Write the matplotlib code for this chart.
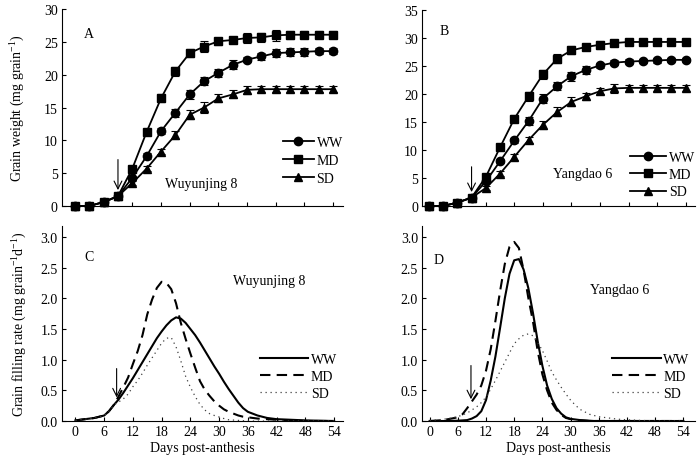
import matplotlib
matplotlib.use('Agg')
import matplotlib.pyplot as plt

plt.rcParams['font.family'] = 'Liberation Serif'
plt.rcParams['mathtext.fontset'] = 'custom'
plt.rcParams['mathtext.rm'] = 'Liberation Serif'
plt.rcParams['font.size'] = 10

# grain weight, sampled every 3 days after anthesis
days = [0, 3, 6, 9, 12, 15, 18, 21, 24, 27, 30, 33, 36, 39, 42, 45, 48, 51, 54]

wuy_ww = [0, 0, 0.6, 1.5, 4.3, 7.6, 11.4, 14.2, 17.0, 19.0, 20.3, 21.5, 22.3, 22.8, 23.3, 23.4, 23.5, 23.6, 23.6]
wuy_md = [0, 0, 0.6, 1.5, 5.7, 11.3, 16.4, 20.5, 23.3, 24.3, 25.1, 25.3, 25.6, 25.7, 26.0, 26.1, 26.1, 26.1, 26.1]
wuy_sd = [0, 0, 0.6, 1.5, 3.5, 5.7, 8.3, 10.8, 13.9, 15.0, 16.4, 17.0, 17.7, 17.8, 17.8, 17.8, 17.8, 17.8, 17.8]
wuy_ww_err = [0, 0, 0.1, 0.2, 0.3, 0.4, 0.5, 0.6, 0.7, 0.6, 0.6, 0.7, 0.4, 0.5, 0.6, 0.6, 0.6, 0.5, 0.5]
wuy_md_err = [0, 0, 0.1, 0.2, 0.3, 0.4, 0.6, 0.7, 0.6, 0.8, 0.5, 0.5, 0.8, 0.7, 0.8, 0.6, 0.5, 0.5, 0.5]
wuy_sd_err = [0, 0, 0.1, 0.2, 0.3, 0.4, 0.4, 0.6, 0.7, 0.8, 0.6, 0.6, 0.6, 0.5, 0.5, 0.5, 0.5, 0.5, 0.5]

yd_ww = [0, 0, 0.6, 1.5, 4.4, 8.0, 11.7, 15.2, 19.2, 21.4, 23.2, 24.3, 25.1, 25.6, 25.8, 25.9, 26.0, 26.1, 26.1]
yd_md = [0, 0, 0.6, 1.5, 5.2, 10.5, 15.6, 19.6, 23.5, 26.3, 27.8, 28.4, 28.8, 29.1, 29.3, 29.3, 29.3, 29.3, 29.3]
yd_sd = [0, 0, 0.6, 1.5, 3.2, 5.8, 8.8, 11.8, 14.5, 16.8, 18.6, 19.6, 20.5, 21.0, 21.1, 21.1, 21.1, 21.1, 21.1]
yd_ww_err = [0, 0, 0.1, 0.2, 0.3, 0.4, 0.5, 0.7, 0.8, 0.7, 0.8, 0.7, 0.5, 0.4, 0.4, 0.4, 0.4, 0.4, 0.4]
yd_md_err = [0, 0, 0.1, 0.2, 0.3, 0.5, 0.6, 0.8, 0.8, 0.8, 0.7, 0.6, 0.7, 0.6, 0.6, 0.5, 0.5, 0.5, 0.5]
yd_sd_err = [0, 0, 0.1, 0.2, 0.3, 0.4, 0.5, 0.6, 0.7, 0.8, 0.8, 0.6, 0.5, 0.8, 0.6, 0.6, 0.6, 0.6, 0.6]

# grain filling rate curves
rate_days = [0, 2, 4, 6, 7, 8, 9, 10, 11, 12, 13, 14, 15, 16, 17, 18, 19, 20, 21, 22, 23, 24,
             25, 26, 27, 28, 29, 30, 31, 32, 33, 34, 35, 36, 38, 40, 42, 45, 48, 54]

wuy_rate_ww = [0.01, 0.03, 0.05, 0.09, 0.16, 0.26, 0.35, 0.46, 0.58, 0.70, 0.83, 0.96, 1.09, 1.22, 1.35,
               1.46, 1.56, 1.64, 1.69, 1.67, 1.60, 1.50, 1.40, 1.28, 1.15, 1.02, 0.89, 0.77, 0.64, 0.52,
               0.41, 0.30, 0.21, 0.15, 0.09, 0.05, 0.03, 0.02, 0.01, 0.0]
wuy_rate_md = [0.01, 0.03, 0.05, 0.09, 0.16, 0.26, 0.40, 0.55, 0.71, 0.93, 1.14, 1.40, 1.74, 1.98, 2.17,
               2.27, 2.25, 2.15, 1.92, 1.60, 1.34, 1.10, 0.87, 0.65, 0.51, 0.41, 0.32, 0.25, 0.19, 0.15,
               0.12, 0.09, 0.07, 0.06, 0.04, 0.03, 0.02, 0.01, 0.0, 0.0]
wuy_rate_sd = [0.01, 0.03, 0.05, 0.09, 0.16, 0.26, 0.31, 0.36, 0.44, 0.56, 0.66, 0.78, 0.91, 1.03, 1.15,
               1.27, 1.35, 1.36, 1.21, 0.98, 0.73, 0.55, 0.40, 0.27, 0.18, 0.12, 0.09, 0.065, 0.04, 0.02,
               0.015, 0.01, 0.005, 0.0, 0.0, 0.0, 0.0, 0.0, 0.0, 0.0]

yd_rate_ww = [0.0, 0.0, 0.0, 0.005, 0.01, 0.015, 0.04, 0.08, 0.16, 0.34, 0.66, 1.05, 1.52, 2.00, 2.40,
              2.62, 2.64, 2.47, 2.17, 1.76, 1.30, 0.90, 0.58, 0.36, 0.21, 0.12, 0.06, 0.035, 0.025, 0.015,
              0.01, 0.005, 0.0, 0.0, 0.0, 0.0, 0.0, 0.0, 0.0, 0.0]
yd_rate_md = [0.0, 0.01, 0.03, 0.06, 0.11, 0.21, 0.32, 0.43, 0.58, 0.82, 1.17, 1.63, 2.12, 2.56, 2.84,
              2.92, 2.82, 2.46, 2.01, 1.62, 1.14, 0.76, 0.50, 0.30, 0.18, 0.10, 0.05, 0.03, 0.02, 0.01,
              0.005, 0.0, 0.0, 0.0, 0.0, 0.0, 0.0, 0.0, 0.0, 0.0]
yd_rate_sd = [0.01, 0.02, 0.04, 0.07, 0.10, 0.13, 0.18, 0.23, 0.30, 0.39, 0.52, 0.66, 0.81, 0.96, 1.11,
              1.26, 1.34, 1.40, 1.42, 1.39, 1.28, 1.15, 0.98, 0.80, 0.67, 0.55, 0.44, 0.34, 0.26, 0.19,
              0.15, 0.11, 0.09, 0.07, 0.05, 0.03, 0.02, 0.01, 0.0, 0.0]

labels = ['WW', 'MD', 'SD']
markers = ['o', 's', '^']
xticks = list(range(0, 55, 6))

fig = plt.figure(figsize=(7, 4.6), dpi=100)
ax_a = fig.add_axes([0.0886, 0.55, 0.401, 0.428])
ax_b = fig.add_axes([0.603, 0.55, 0.390, 0.426])
ax_c = fig.add_axes([0.0886, 0.0826, 0.401, 0.424])
ax_d = fig.add_axes([0.603, 0.0826, 0.390, 0.424])

for ax in (ax_a, ax_b, ax_c, ax_d):
    ax.spines['top'].set_visible(False)
    ax.spines['right'].set_visible(False)
    ax.tick_params(direction='in', length=3, width=0.8, labelsize=10, pad=3)
    ax.set_xticks(xticks)

# weight panels
weight_sets = [
    (ax_a, [wuy_ww, wuy_md, wuy_sd], [wuy_ww_err, wuy_md_err, wuy_sd_err], 'A', 'Wuyunjing 8'),
    (ax_b, [yd_ww, yd_md, yd_sd], [yd_ww_err, yd_md_err, yd_sd_err], 'B', 'Yangdao 6'),
]
for ax, series, errs, letter, cultivar in weight_sets:
    for y, e, m, lab in zip(series, errs, markers, labels):
        ax.errorbar(days, y, yerr=e, fmt='none', ecolor='black', elinewidth=0.8, capsize=2.6, capthick=0.8)
        ax.plot(days, y, color='black', lw=1.3, marker=m, markersize=6, label=lab, clip_on=False, zorder=3)
    ax.tick_params(axis='x', labelbottom=False)
    ax.annotate('', xy=(9, 2.0), xytext=(9, 7.5),
                arrowprops=dict(arrowstyle='->', lw=0.8, color='black', mutation_scale=14))

ax_a.set_xlim(-2.7, 56)
ax_a.set_ylim(0, 30)
ax_a.set_yticks(range(0, 31, 5))
ax_a.text(3.0, 26.3, 'A', ha='center', va='center', fontsize=10)
ax_a.text(26.4, 3.5, 'Wuyunjing 8', ha='center', va='center', fontsize=10)
ax_a.set_ylabel('Grain weight (mg grain$^{-1}$)', fontsize=10, labelpad=13)
ax_a.legend(loc='lower right', bbox_to_anchor=(1.02, 0.08), frameon=False, handlelength=2.2,
            handletextpad=0.2, labelspacing=0.35, borderaxespad=0, fontsize=10)

ax_b.set_xlim(-1.4, 56)
ax_b.set_ylim(0, 35)
ax_b.set_yticks(range(0, 36, 5))
ax_b.text(3.2, 31.4, 'B', ha='center', va='center', fontsize=10)
ax_b.text(32.4, 5.8, 'Yangdao 6', ha='center', va='center', fontsize=10)
ax_b.legend(loc='lower right', bbox_to_anchor=(1.02, 0.01), frameon=False, handlelength=2.6,
            handletextpad=0.2, labelspacing=0.3, borderaxespad=0, fontsize=10)

# filling rate panels
styles = [dict(ls='-', lw=1.5, color='black'),
          dict(ls=(0, (5, 3)), lw=1.5, color='black'),
          dict(ls=(0, (1, 3)), lw=0.9, color='0.25')]
rate_sets = [
    (ax_c, [wuy_rate_ww, wuy_rate_md, wuy_rate_sd], 'C', 'Wuyunjing 8', (2.8, 2.69), (40.4, 2.29), (8.6, 0.34, 0.9)),
    (ax_d, [yd_rate_ww, yd_rate_md, yd_rate_sd], 'D', 'Yangdao 6', (1.9, 2.63), (40.4, 2.14), (8.8, 0.31, 0.95)),
]
for ax, series, letter, cultivar, lpos, cpos, arrow in rate_sets:
    for y, st, lab in zip(series, styles, labels):
        ax.plot(rate_days, y, label=lab, **st)
    ax.set_ylim(0, 3.18)
    ax.set_yticks([0, 0.5, 1.0, 1.5, 2.0, 2.5, 3.0])
    ax.set_yticklabels(['0.0', '0.5', '1.0', '1.5', '2.0', '2.5', '3.0'])
    ax.set_xlabel('Days post-anthesis', fontsize=10, labelpad=2)
    ax.text(lpos[0], lpos[1], letter, ha='center', va='center', fontsize=10)
    ax.text(cpos[0], cpos[1], cultivar, ha='center', va='center', fontsize=10)
    ax.annotate('', xy=(arrow[0], arrow[1]), xytext=(arrow[0], arrow[2]),
                arrowprops=dict(arrowstyle='->', lw=0.8, color='black', mutation_scale=14))
    ax.legend(loc='lower right', bbox_to_anchor=(1.0, 0.08), frameon=False, handlelength=3.5,
              handletextpad=0.2, labelspacing=0.3, borderaxespad=0, fontsize=10)

ax_c.set_xlim(-2.8, 55.8)
ax_d.set_xlim(-1.6, 56.5)
ax_c.set_ylabel('Grain filling rate (mg grain$^{-1}$d$^{-1}$)', fontsize=10, labelpad=9)

fig.savefig('out.png', dpi=100)
